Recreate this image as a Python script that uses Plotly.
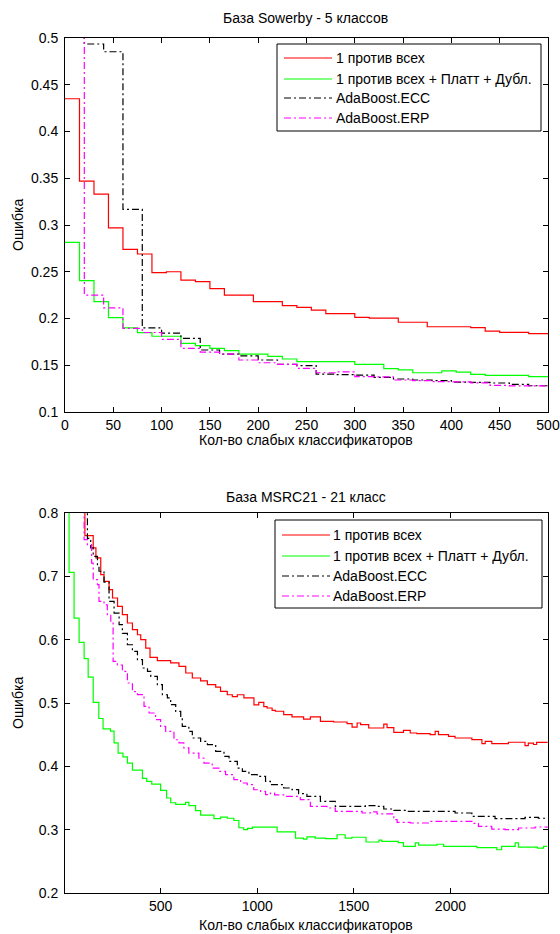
import plotly.graph_objects as go

W, H = 560, 934

# ---------------- Sowerby database, 5 classes ----------------
SOW_OVA_X = [0, 15, 30, 45, 60, 75, 90, 105, 120, 135, 150, 165, 195, 225, 240,
             255, 270, 300, 315, 345, 375, 420, 435, 450, 480, 500]
SOW_OVA_Y = [0.435, 0.347, 0.333, 0.297, 0.274, 0.269, 0.249, 0.250, 0.241, 0.2395,
             0.232, 0.225, 0.218, 0.2137, 0.212, 0.209, 0.2052, 0.2013, 0.2003, 0.196,
             0.1912, 0.1902, 0.1866, 0.1852, 0.1838, 0.1838]

SOW_PLATT_X = [0, 15, 30, 45, 60, 75, 90, 120, 135, 150, 165, 180, 210, 225, 240,
               300, 330, 345, 360, 390, 405, 420, 435, 480, 500]
SOW_PLATT_Y = [0.2815, 0.2405, 0.218, 0.201, 0.190, 0.1848, 0.181, 0.1735, 0.171,
               0.168, 0.1656, 0.162, 0.1595, 0.1567, 0.1538, 0.151, 0.1463, 0.145,
               0.142, 0.144, 0.1427, 0.1403, 0.1392, 0.1378, 0.1378]

SOW_BOOST_X = [0, 20, 40, 60, 80, 100, 120, 140, 160, 180, 200, 220, 240, 260, 280,
               300, 320, 340, 360, 380, 400, 420, 440, 460, 480, 500]
SOW_ECC_Y = [0.55, 0.4936, 0.4853, 0.3168, 0.190, 0.1843, 0.1788, 0.1663, 0.162, 0.160,
             0.1556, 0.151, 0.1495, 0.1406, 0.140, 0.1395, 0.137, 0.1353, 0.1342,
             0.1335, 0.132, 0.1317, 0.131, 0.1295, 0.1281, 0.127]
SOW_ERP_Y = [0.55, 0.2251, 0.2113, 0.1895, 0.185, 0.1777, 0.168, 0.164, 0.162, 0.1556,
             0.1527, 0.151, 0.1467, 0.142, 0.143, 0.1378, 0.1375, 0.1342, 0.1335,
             0.1324, 0.1322, 0.1311, 0.1285, 0.128, 0.128, 0.127]

# ---------------- MSRC21 database, 21 classes ----------------
MS_OVA_X = [10, 108, 151, 165, 190, 207, 233, 251, 277, 302, 328, 354, 380, 397, 423,
            445, 483, 552, 595, 630, 664, 707, 742, 785, 810, 845, 871, 897, 931, 983,
            1008, 1034, 1051, 1077, 1094, 1137, 1180, 1240, 1275, 1327, 1396, 1465,
            1491, 1517, 1535, 1577, 1655, 1672, 1707, 1757, 1792, 1826, 1895, 1921,
            1938, 1990, 2024, 2111, 2163, 2180, 2214, 2300, 2386, 2403, 2430, 2446, 2500]
MS_OVA_Y = [0.90, 0.7642, 0.745, 0.729, 0.7026, 0.692, 0.679, 0.6658, 0.6526, 0.6395,
            0.6263, 0.6157, 0.6078, 0.600, 0.5868, 0.572, 0.5668, 0.5632, 0.5579,
            0.5474, 0.5395, 0.535, 0.5289, 0.525, 0.5184, 0.513, 0.510, 0.513, 0.508,
            0.497, 0.501, 0.4944, 0.4921, 0.4884, 0.487, 0.4815, 0.478, 0.4745, 0.478,
            0.4710, 0.470, 0.4673, 0.462, 0.4684, 0.466, 0.4605, 0.4668, 0.461, 0.4536,
            0.4568, 0.4526, 0.4515, 0.450, 0.4552, 0.450, 0.4473, 0.4447, 0.4421,
            0.4357, 0.4394, 0.4357, 0.438, 0.4326, 0.4368, 0.4345, 0.4378, 0.437]

MS_PLATT_X = [10, 26, 52, 78, 104, 125, 151, 180, 202, 240, 259, 280, 305, 328, 354,
              406, 428, 454, 500, 531, 552, 578, 629, 646, 681, 707, 776, 810, 845, 879,
              905, 930, 950, 975, 1103, 1198, 1240, 1257, 1300, 1353, 1413, 1455, 1490,
              1563, 1630, 1645, 1730, 1757, 1818, 1835, 1930, 1965, 2137, 2240, 2265,
              2335, 2352, 2450, 2482, 2500]
MS_PLATT_Y = [0.90, 0.7062, 0.634, 0.5957, 0.570, 0.541, 0.501, 0.4755, 0.459, 0.4555,
              0.437, 0.421, 0.415, 0.405, 0.394, 0.381, 0.3763, 0.372, 0.362, 0.350,
              0.3425, 0.340, 0.343, 0.338, 0.330, 0.323, 0.3175, 0.3198, 0.318, 0.3145,
              0.303, 0.300, 0.302, 0.304, 0.2965, 0.2868, 0.285, 0.2885, 0.2865, 0.286,
              0.292, 0.2865, 0.288, 0.2805, 0.2835, 0.2815, 0.2795, 0.2736, 0.279,
              0.2755, 0.277, 0.2736, 0.2718, 0.2683, 0.2736, 0.279, 0.2725, 0.271,
              0.2736, 0.2736]

MS_ECC_X = [10, 121, 138, 151, 173, 181, 207, 233, 259, 285, 302, 328, 354, 380, 406,
            432, 449, 483, 509, 535, 552, 578, 604, 612, 646, 664, 707, 742, 785, 828,
            854, 897, 923, 957, 1000, 1043, 1068, 1137, 1180, 1214, 1257, 1327, 1404,
            1560, 1620, 1655, 1707, 1775, 2024, 2111, 2231, 2386, 2455, 2500]
MS_ECC_Y = [0.90, 0.76, 0.745, 0.7316, 0.7157, 0.708, 0.691, 0.6604, 0.642, 0.6236,
            0.610, 0.592, 0.5815, 0.5684, 0.5553, 0.550, 0.542, 0.5289, 0.513, 0.508,
            0.4973, 0.4868, 0.476, 0.4631, 0.4552, 0.4447, 0.4394, 0.4342, 0.4236,
            0.4157, 0.4078, 0.3973, 0.392, 0.3868, 0.384, 0.3763, 0.371, 0.3658,
            0.3631, 0.3568, 0.3526, 0.3447, 0.3368, 0.338, 0.3368, 0.3326, 0.3305,
            0.3289, 0.3263, 0.321, 0.3173, 0.3195, 0.318, 0.318]

MS_ERP_X = [10, 104, 121, 143, 151, 173, 181, 207, 224, 242, 254, 276, 302, 328, 354,
            380, 414, 440, 474, 500, 526, 569, 595, 620, 646, 698, 724, 767, 802, 836,
            879, 914, 948, 982, 1017, 1043, 1068, 1090, 1137, 1223, 1275, 1361, 1404,
            1543, 1585, 1620, 1707, 1724, 1792, 1895, 2111, 2145, 2214, 2283, 2352,
            2438, 2500]
MS_ERP_Y = [0.90, 0.758, 0.75, 0.721, 0.6947, 0.687, 0.6605, 0.655, 0.6394, 0.626,
            0.5657, 0.56, 0.55, 0.5316, 0.518, 0.5131, 0.4947, 0.4842, 0.4737, 0.4631,
            0.4552, 0.442, 0.437, 0.429, 0.421, 0.4131, 0.4052, 0.3973, 0.392, 0.3868,
            0.3789, 0.3737, 0.371, 0.363, 0.3605, 0.3552, 0.3579, 0.355, 0.3526, 0.3473,
            0.3368, 0.3342, 0.3289, 0.3263, 0.328, 0.325, 0.3158, 0.3115, 0.3105,
            0.3131, 0.310, 0.3052, 0.301, 0.300, 0.3026, 0.3042, 0.3026]

SERIES_NAMES = ["1 против всех", "1 против всех + Платт + Дубл.",
                "AdaBoost.ECC", "AdaBoost.ERP"]
COLORS = ["#ff0000", "#00ff00", "#000000", "#ff00ff"]
DASHES = ["solid", "solid", "7px,3px,2px,3px", "7px,3px,2px,3px"]

TOP_TITLE = "База Sowerby - 5 классов"
BOTTOM_TITLE = "База MSRC21 - 21 класс"
X_LABEL = "Кол-во слабых классификаторов"
Y_LABEL = "Ошибка"

TOP_XTICKS = [0, 50, 100, 150, 200, 250, 300, 350, 400, 450, 500]
TOP_YTICKS = [0.1, 0.15, 0.2, 0.25, 0.3, 0.35, 0.4, 0.45, 0.5]
TOP_YTICKTEXT = ["0.1", "0.15", "0.2", "0.25", "0.3", "0.35", "0.4", "0.45", "0.5"]
BOT_XTICKS = [500, 1000, 1500, 2000]
BOT_YTICKS = [0.2, 0.3, 0.4, 0.5, 0.6, 0.7, 0.8]
BOT_YTICKTEXT = ["0.2", "0.3", "0.4", "0.5", "0.6", "0.7", "0.8"]

FONT = "Liberation Sans, Arial, Helvetica, sans-serif"
FS = 14


def px(x):
    return x / W


def py(y):
    return 1 - y / H


fig = go.Figure()

top_series = [(SOW_OVA_X, SOW_OVA_Y), (SOW_PLATT_X, SOW_PLATT_Y),
              (SOW_BOOST_X, SOW_ECC_Y), (SOW_BOOST_X, SOW_ERP_Y)]
bot_series = [(MS_OVA_X, MS_OVA_Y), (MS_PLATT_X, MS_PLATT_Y),
              (MS_ECC_X, MS_ECC_Y), (MS_ERP_X, MS_ERP_Y)]

# curves are drawn in legend order, so AdaBoost.ERP ends up on top
for i in range(4):
    xs, ys = top_series[i]
    fig.add_trace(go.Scatter(x=xs, y=ys, mode="lines", name=SERIES_NAMES[i],
                             line=dict(shape="hv", color=COLORS[i], width=1.2, dash=DASHES[i]),
                             xaxis="x", yaxis="y", showlegend=False, hoverinfo="skip"))
for i in range(4):
    xs, ys = bot_series[i]
    fig.add_trace(go.Scatter(x=xs, y=ys, mode="lines", name=SERIES_NAMES[i],
                             line=dict(shape="hv", color=COLORS[i], width=1.2, dash=DASHES[i]),
                             xaxis="x2", yaxis="y2", showlegend=False, hoverinfo="skip"))

axis_common = dict(showline=True, linecolor="#000000", linewidth=1, mirror="ticks",
                   ticks="inside", ticklen=5, tickwidth=1, tickcolor="#000000",
                   showgrid=False, zeroline=False, automargin=False,
                   tickfont=dict(family=FONT, size=FS, color="#000000"))

X_DOMAIN = [px(65), px(548)]

fig.update_layout(
    template="none",
    width=W, height=H,
    margin=dict(l=0, r=0, t=0, b=0, pad=0),
    paper_bgcolor="white", plot_bgcolor="white",
    showlegend=False,
    font=dict(family=FONT, size=FS, color="#000000"),
    xaxis=dict(domain=X_DOMAIN, range=[0, 500], tickvals=TOP_XTICKS,
               anchor="y", ticklabelstandoff=0, **axis_common),
    yaxis=dict(domain=[py(412), py(38)], range=[0.1, 0.5], tickvals=TOP_YTICKS,
               ticktext=TOP_YTICKTEXT, anchor="x", ticklabelstandoff=3, **axis_common),
    xaxis2=dict(domain=X_DOMAIN, range=[5, 2505], tickvals=BOT_XTICKS,
                anchor="y2", ticklabelstandoff=0, **axis_common),
    yaxis2=dict(domain=[py(893), py(513)], range=[0.2, 0.8], tickvals=BOT_YTICKS,
                ticktext=BOT_YTICKTEXT, anchor="x2", ticklabelstandoff=3, **axis_common),
)

annotations = []
shapes = []


def text(x, y, s, xanchor="center", angle=0):
    annotations.append(dict(x=px(x), y=py(y), xref="paper", yref="paper", text=s,
                            showarrow=False, xanchor=xanchor, yanchor="middle",
                            textangle=angle,
                            font=dict(family=FONT, size=FS, color="#000000")))


# titles and axis labels
text(306, 18, TOP_TITLE)
text(306, 497, BOTTOM_TITLE)
text(306, 440, X_LABEL)
text(306, 925, X_LABEL)
text(18, 225, Y_LABEL, angle=-90)
text(18, 703, Y_LABEL, angle=-90)


def legend_box(left, top, right, bottom, rows, line_x0, line_x1, text_x):
    shapes.append(dict(type="rect", xref="paper", yref="paper",
                       x0=px(left), x1=px(right), y0=py(bottom), y1=py(top),
                       line=dict(color="#000000", width=1), fillcolor="white", layer="above"))
    for i, ry in enumerate(rows):
        shapes.append(dict(type="line", xref="paper", yref="paper",
                           x0=px(line_x0), x1=px(line_x1), y0=py(ry), y1=py(ry),
                           line=dict(color=COLORS[i], width=1.2, dash=DASHES[i]),
                           layer="above"))
        text(text_x, ry, SERIES_NAMES[i], xanchor="left")


legend_box(277, 44, 541, 131, [58, 79, 98, 118], 284, 332, 334)
legend_box(275, 520, 542, 608, [535, 556, 576, 596], 282, 330, 331)

fig.update_layout(annotations=annotations, shapes=shapes)

fig.write_html("out.html")
